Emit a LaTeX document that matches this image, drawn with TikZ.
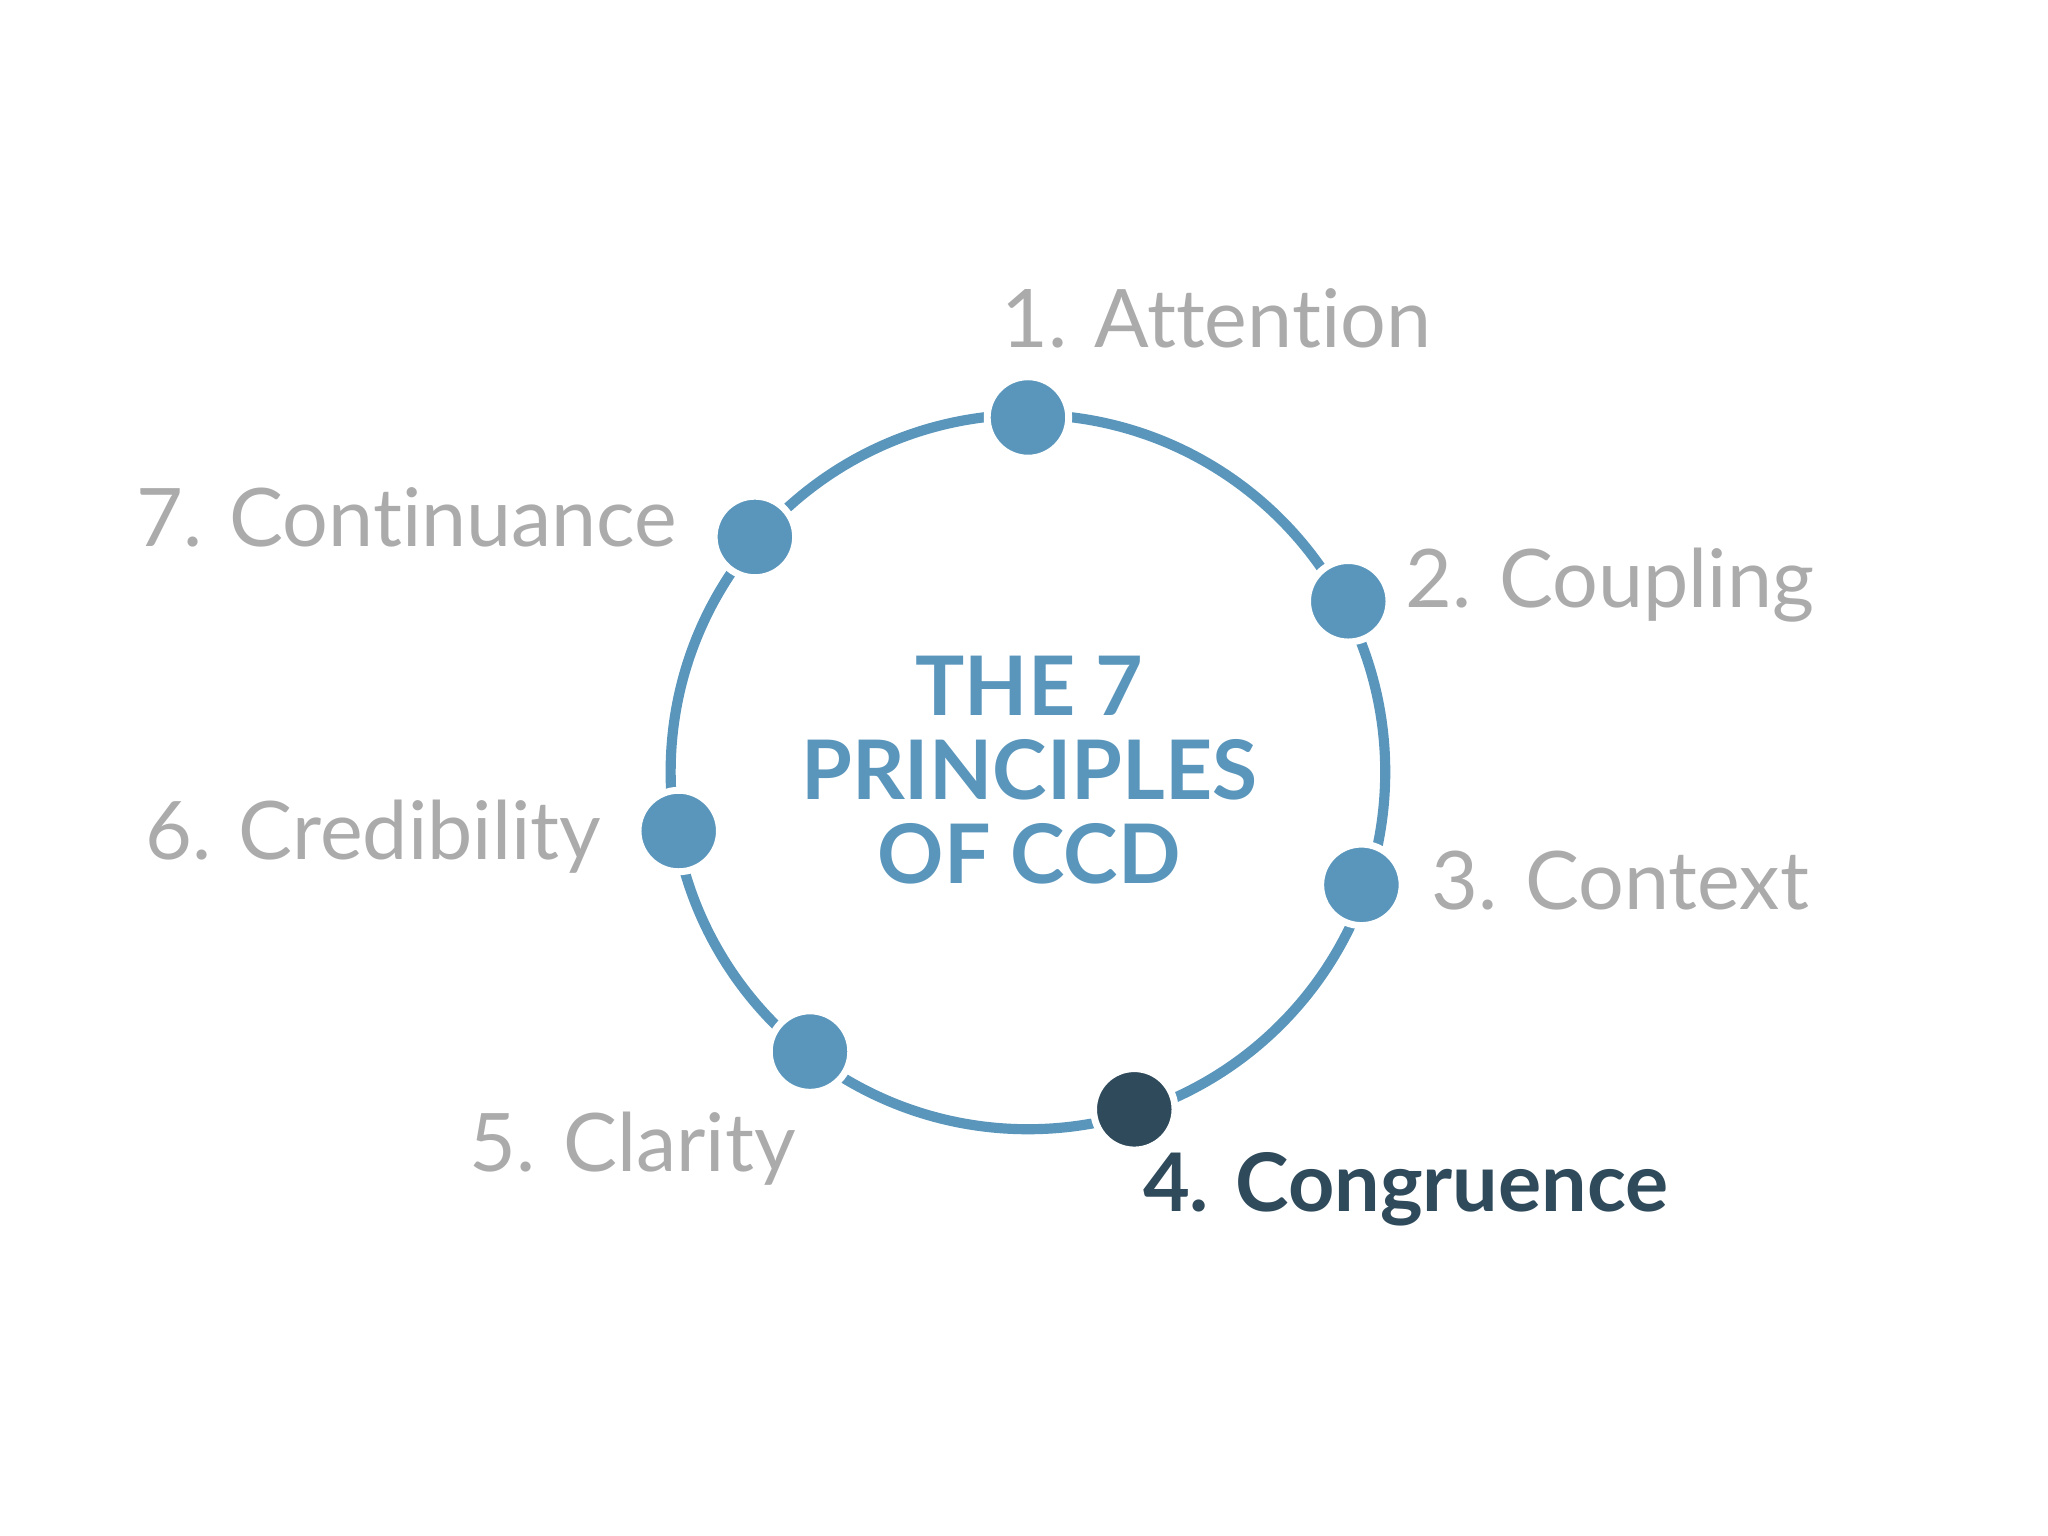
\documentclass[tikz,border=0pt]{standalone}
\usepackage{fontspec}
\setmainfont{Lato}[Ligatures={NoCommon}]
\definecolor{cblue}{HTML}{5A96BC}
\definecolor{cdark}{HTML}{2E4A5B}
\definecolor{cgray}{HTML}{ABABAB}
\begin{document}
\begin{tikzpicture}[x=0.01cm,y=-0.01cm,
  dot/.style={circle,fill=cblue,draw=white,line width=1.5pt,minimum size=0.62cm,inner sep=0},
  lbl/.style={anchor=base west,inner sep=0,text=cgray,font=\fontsize{17.5}{21}\selectfont},
  ttl/.style={anchor=base,inner sep=0,text=cblue,font=\fontsize{17.8}{20}\selectfont\bfseries}]
\useasboundingbox (0,0) rectangle (1560,1170);
\node[circle,draw=cblue,line width=2.2pt,minimum size=5.44cm,inner sep=0] (ring) at (783,588) {};
\node[dot] (d1) at (783,318) {};
\node[dot] (d2) at (1027,458) {};
\node[dot] (d3) at (1037,674) {};
\node[dot,fill=cdark] (d4) at (864,845) {};
\node[dot] (d5) at (617,801) {};
\node[dot] (d6) at (517,633) {};
\node[dot] (d7) at (575,409) {};
\node[lbl] (l1) at (762,265) {1. Attention};
\node[lbl] (l2) at (1070,463) {2. Coupling};
\node[lbl] (l3) at (1090,693) {3. Context};
\node[lbl,text=cdark,font=\fontsize{17.5}{21}\selectfont\bfseries] (l4) at (870,923) {4. Congruence};
\node[lbl] (l5) at (357,892) {5. Clarity};
\node[lbl] (l6) at (110,655) {6. Credibility};
\node[lbl] (l7) at (103,416) {7. Continuance};
\node[ttl] (t1) at (784,545) {THE 7};
\node[ttl] (t2) at (784,609) {PRINCIPLES};
\node[ttl] (t3) at (784,673) {OF CCD};
\end{tikzpicture}
\end{document}
